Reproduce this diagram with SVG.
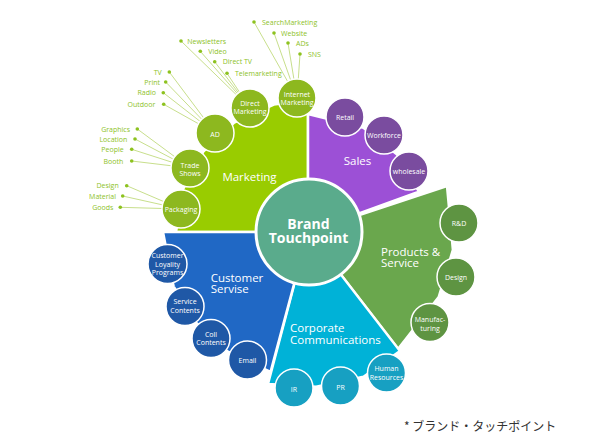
<svg xmlns="http://www.w3.org/2000/svg" width="600" height="445" viewBox="0 0 600 445">
<style>
.t{font-family:'Open Sans','Noto Sans',sans-serif;fill:#fff}
.sec{stroke:#fff;stroke-width:2.5;stroke-linejoin:miter}
.big{font-size:11.5px}
.cl{font-size:7px;text-anchor:middle}
.sub{font-family:'Open Sans','Noto Sans',sans-serif;font-size:7px;fill:#8dc21f}
.e{text-anchor:end}
.ln{stroke:#c8df8c;stroke-width:1;fill:none}
.dot{fill:#8dc21f}
.c{stroke:#fff;stroke-width:1.5}
.cm{fill:#8db81f}.cs{fill:#7a4c9f}.cp{fill:#5e9442}.cc{fill:#17a0c2}.cu{fill:#1f58a6}
</style>
<rect width="600" height="445" fill="#fff"/>
<g id="connectors">
<path class="ln" d="M254,22L297,98M274,33L297,98M288,43L297,98M300,54L297,98"/>
<path class="ln" d="M181,41L250,108M200.3,51.3L250,108M214.7,61.7L250,108M227,73.3L250,108"/>
<path class="ln" d="M169.3,72L215,133M165.7,82L215,133M163.3,92.7L215,133M163.7,104.3L215,133"/>
<path class="ln" d="M137.3,129L190,168M135,139L190,168M131.7,149.3L190,168M131.7,161L190,168"/>
<path class="ln" d="M126.7,185.7L181,209M122.7,196L181,209M120.3,207.3L181,209"/>
<g class="dot">
<circle cx="254" cy="22" r="1.8"/><circle cx="274" cy="33" r="1.8"/><circle cx="288" cy="43" r="1.8"/><circle cx="300" cy="54" r="1.8"/>
<circle cx="181" cy="41" r="1.8"/><circle cx="200.3" cy="51.3" r="1.8"/><circle cx="214.7" cy="61.7" r="1.8"/><circle cx="227" cy="73.3" r="1.8"/>
<circle cx="169.3" cy="72" r="1.8"/><circle cx="165.7" cy="82" r="1.8"/><circle cx="163.3" cy="92.7" r="1.8"/><circle cx="163.7" cy="104.3" r="1.8"/>
<circle cx="137.3" cy="129" r="1.8"/><circle cx="135" cy="139" r="1.8"/><circle cx="131.7" cy="149.3" r="1.8"/><circle cx="131.7" cy="161" r="1.8"/>
<circle cx="126.7" cy="185.7" r="1.8"/><circle cx="122.7" cy="196" r="1.8"/><circle cx="120.3" cy="207.3" r="1.8"/>
</g>
</g>
<g id="sublabels">
<text class="sub" x="262" y="24.5">SearchMarketing</text>
<text class="sub" x="281" y="35.5">Website</text>
<text class="sub" x="296" y="45.5">ADs</text>
<text class="sub" x="308" y="56.5">SNS</text>
<text class="sub" x="187.3" y="43.5">Newsletters</text>
<text class="sub" x="208.3" y="53.8">Video</text>
<text class="sub" x="222.7" y="64.2">Direct TV</text>
<text class="sub" x="235" y="75.8">Telemarketing</text>
<text class="sub e" x="161.7" y="74.5">TV</text>
<text class="sub e" x="160" y="84.5">Print</text>
<text class="sub e" x="156" y="95.2">Radio</text>
<text class="sub e" x="155.3" y="106.8">Outdoor</text>
<text class="sub e" x="130" y="131.5">Graphics</text>
<text class="sub e" x="127.3" y="141.5">Location</text>
<text class="sub e" x="123.7" y="151.8">People</text>
<text class="sub e" x="123.3" y="163.5">Booth</text>
<text class="sub e" x="118.7" y="188.2">Design</text>
<text class="sub e" x="116" y="198.5">Material</text>
<text class="sub e" x="113.3" y="209.8">Goods</text>
</g>
<g id="marketing">
<path class="sec" fill="#99cc00" d="M308,232L176,232L183.2,189L203.3,151.6L234.2,122.6L273.8,104.5L308,100Z"/>
<text class="t big" x="249.5" y="180.5" text-anchor="middle">Marketing</text>
</g>
<g id="sales">
<path class="sec" fill="#9c50d6" d="M308,232L308,114L363.4,127.8L397.1,154.6L418.9,191.6Z"/>
<text class="t big" x="357.5" y="165" text-anchor="middle">Sales</text>
</g>
<g id="products">
<path class="sec" fill="#6aa74d" d="M308,232L447,186L452.9,249.8L438.7,297.1L398,349Z"/>
<text class="t big" x="381" y="255.5">Products &amp;</text>
<text class="t big" x="381" y="266.8">Service</text>
</g>
<g id="corporate">
<path class="sec" fill="#00b2d7" d="M308,232L400,351L363.5,376.7L316.1,386.8L268,384Z"/>
<text class="t big" x="290" y="332.3">Corporate</text>
<text class="t big" x="290" y="343.6">Communications</text>
</g>
<g id="customer">
<path class="sec" fill="#2068c5" d="M308,232L270.5,372L227.5,351.4L196.1,322.6L173.6,286.3L163,232Z"/>
<text class="t big" x="210.7" y="281.5">Customer</text>
<text class="t big" x="210.7" y="292.8">Servise</text>
</g>
<g id="n-internet"><circle class="c cm" cx="297" cy="98" r="19"/><text class="t cl" x="297" y="96.8">Internet</text><text class="t cl" x="297" y="104.6">Marketing</text></g>
<g id="n-direct"><circle class="c cm" cx="250" cy="108" r="19"/><text class="t cl" x="250" y="105.8">Direct</text><text class="t cl" x="250" y="113.6">Marketing</text></g>
<g id="n-ad"><circle class="c cm" cx="215" cy="133" r="19"/><text class="t cl" x="215" y="136.5">AD</text></g>
<g id="n-trade"><circle class="c cm" cx="190" cy="168" r="19"/><text class="t cl" x="190" y="167.8">Trade</text><text class="t cl" x="190" y="175.6">Shows</text></g>
<g id="n-packaging"><circle class="c cm" cx="181" cy="209" r="19"/><text class="t cl" x="181" y="211.5">Packaging</text></g>
<g id="n-retail"><circle class="c cs" cx="345" cy="117" r="19"/><text class="t cl" x="345" y="119.5">Retail</text></g>
<g id="n-workforce"><circle class="c cs" cx="384" cy="135" r="19"/><text class="t cl" x="384" y="137.5">Workforce</text></g>
<g id="n-wholesale"><circle class="c cs" cx="409" cy="171" r="19"/><text class="t cl" x="409" y="173.5">wholesale</text></g>
<g id="n-rd"><circle class="c cp" cx="459" cy="223" r="19"/><text class="t cl" x="459" y="225.5">R&amp;D</text></g>
<g id="n-design"><circle class="c cp" cx="456" cy="277" r="19"/><text class="t cl" x="456" y="279.5">Design</text></g>
<g id="n-manu"><circle class="c cp" cx="430" cy="322.5" r="19"/><text class="t cl" x="430" y="322.3">Manufac-</text><text class="t cl" x="430" y="330.6">turing</text></g>
<g id="n-hr"><circle class="c cc" cx="386.5" cy="373" r="19"/><text class="t cl" x="386.5" y="371.4">Human</text><text class="t cl" x="386.5" y="380.4">Resources</text></g>
<g id="n-pr"><circle class="c cc" cx="340.5" cy="386" r="19"/><text class="t cl" x="340.5" y="389.5">PR</text></g>
<g id="n-ir"><circle class="c cc" cx="294" cy="388" r="19"/><text class="t cl" x="294" y="391.5">IR</text></g>
<g id="n-loyalty"><circle class="c cu" cx="167.5" cy="264" r="19.5"/><text class="t cl" x="167.5" y="258.3">Customer</text><text class="t cl" x="167.5" y="266.5">Loyality</text><text class="t cl" x="167.5" y="274.7">Programs</text></g>
<g id="n-service"><circle class="c cu" cx="185" cy="306.5" r="19"/><text class="t cl" x="185" y="304.3">Service</text><text class="t cl" x="185" y="312.6">Contents</text></g>
<g id="n-coll"><circle class="c cu" cx="211" cy="338.5" r="19"/><text class="t cl" x="211" y="336.6">Coll</text><text class="t cl" x="211" y="344.9">Contents</text></g>
<g id="n-email"><circle class="c cu" cx="247.5" cy="360" r="19"/><text class="t cl" x="247.5" y="362.5">Email</text></g>
<g id="center">
<circle cx="309" cy="232" r="53" fill="#5aab8c" stroke="#fff" stroke-width="3"/>
<text class="t" x="308.5" y="229" font-size="14" font-weight="bold" text-anchor="middle">Brand</text>
<text class="t" x="308.5" y="242.5" font-size="14" font-weight="bold" text-anchor="middle">Touchpoint</text>
</g>
<text x="404" y="430.5" font-family="'Noto Sans CJK JP','Noto Sans',sans-serif" font-size="12" fill="#333">* ブランド・タッチポイント</text>
</svg>
